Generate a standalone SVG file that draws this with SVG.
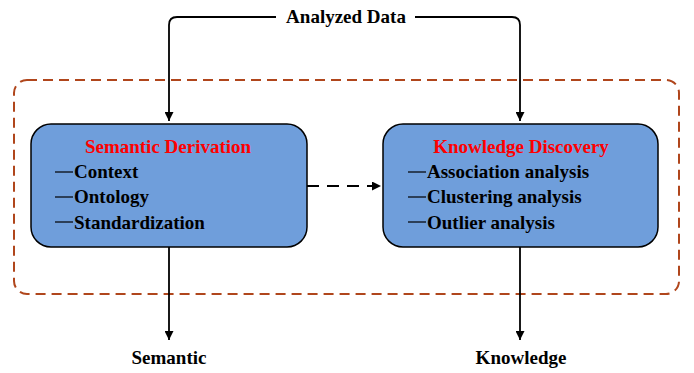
<svg xmlns="http://www.w3.org/2000/svg" width="694" height="373" viewBox="0 0 694 373">
<style>
text{font-family:'Liberation Serif','Times New Roman',Times,serif;font-weight:bold;fill:#000}
.title{fill:#ff0000;font-size:19px;text-anchor:middle}
.item{font-size:19px}
.lbl{font-size:19px;text-anchor:middle}
.box{fill:#6f9edb;stroke:#000;stroke-width:1.5}
.conn{fill:none;stroke:#000;stroke-width:1.8}
.tick{stroke:#000;stroke-width:1.2}
</style>
<defs>
<marker id="ah2" viewBox="0 0 10 10" refX="10" refY="5" markerWidth="9" markerHeight="9" markerUnits="userSpaceOnUse" orient="auto">
<path d="M0,0 L10,5 L0,10 z" fill="#000"/>
</marker>
</defs>
<rect x="14" y="80" width="665" height="214" rx="13" fill="none" stroke="#b0461c" stroke-width="2" stroke-dasharray="10,6"/>
<g id="connectors">
<path class="conn" d="M276,17 L177,17 Q169,17 169,25 L169,121" marker-end="url(#ah2)"/>
<path class="conn" d="M415,17 L512,17 Q520,17 520,25 L520,121" marker-end="url(#ah2)"/>
<path class="conn" d="M307,186 L381,186" stroke-dasharray="12,8" marker-end="url(#ah2)"/>
<path class="conn" d="M169,247 L169,340" marker-end="url(#ah2)"/>
<path class="conn" d="M520,247 L520,340" marker-end="url(#ah2)"/>
</g>
<g id="analyzed-data"><text class="lbl" x="346" y="23">Analyzed Data</text></g>
<g id="semantic-derivation">
<rect class="box" x="31" y="124" width="276" height="123" rx="20"/>
<text class="title" x="168" y="153">Semantic Derivation</text>
<line class="tick" x1="55" y1="172" x2="73" y2="172"/>
<text class="item" x="74" y="178">Context</text>
<line class="tick" x1="55" y1="197" x2="73" y2="197"/>
<text class="item" x="74" y="203">Ontology</text>
<line class="tick" x1="55" y1="222" x2="73" y2="222"/>
<text class="item" x="74" y="229">Standardization</text>
</g>
<g id="knowledge-discovery">
<rect class="box" x="383" y="124" width="275" height="123" rx="20"/>
<text class="title" x="521" y="153">Knowledge Discovery</text>
<line class="tick" x1="408" y1="172" x2="426" y2="172"/>
<text class="item" x="427" y="178">Association analysis</text>
<line class="tick" x1="408" y1="197" x2="426" y2="197"/>
<text class="item" x="427" y="203">Clustering analysis</text>
<line class="tick" x1="408" y1="222" x2="426" y2="222"/>
<text class="item" x="427" y="229">Outlier analysis</text>
</g>
<g id="semantic"><text class="lbl" x="169" y="364">Semantic</text></g>
<g id="knowledge"><text class="lbl" x="521" y="364">Knowledge</text></g>
</svg>
